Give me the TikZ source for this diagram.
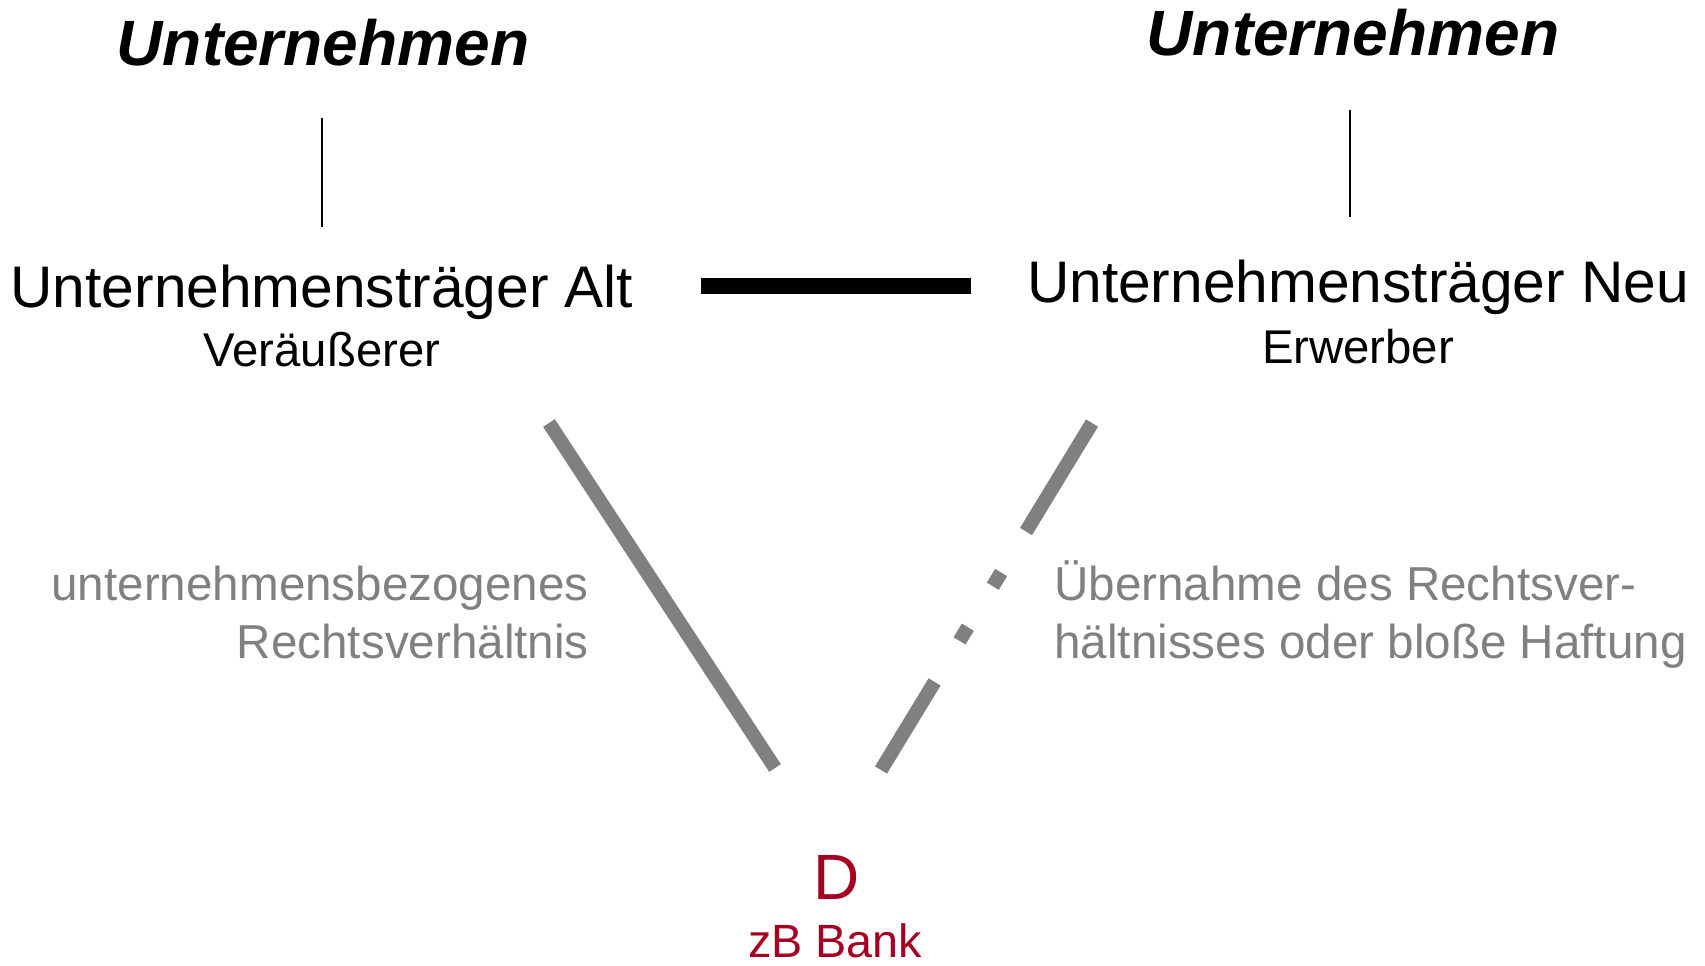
\documentclass[tikz,border=0pt]{standalone}
\usepackage{fontspec}
\setmainfont{Liberation Sans}
\definecolor{lgray}{RGB}{128,128,128}
\definecolor{dred}{RGB}{165,0,33}
\begin{document}
\begin{tikzpicture}[x=0.75pt,y=-0.75pt,
  title/.style={inner sep=0pt, anchor=base, font=\fontsize{48}{56}\selectfont\bfseries\itshape},
  mainlbl/.style={inner sep=0pt, anchor=base, font=\fontsize{44}{52}\selectfont},
  sublbl/.style={inner sep=0pt, anchor=base, font=\fontsize{35.5}{42}\selectfont},
  glbl/.style={inner sep=0pt, text=lgray, font=\fontsize{35.7}{42}\selectfont},
  dlbl/.style={inner sep=0pt, anchor=base, text=dred, font=\fontsize{48}{56}\selectfont},
  banklbl/.style={inner sep=0pt, anchor=base, text=dred, font=\fontsize{35}{42}\selectfont},
  vline/.style={draw=black, line width=0.9pt},
  barline/.style={draw=black, line width=12pt},
  grayline/.style={draw=lgray, line width=10.5pt},
  dashdotline/.style={draw=lgray, line width=10.5pt, dash pattern=on 95.25pt off 36pt on 12pt off 36pt on 12pt off 36pt}
]
\path[use as bounding box] (0,0) rectangle (1705,965);

\node[title] (tL) at (323,65) {Unternehmen};
\node[title] (tR) at (1353,55) {Unternehmen};
\node[mainlbl] (mL) at (322,307) {Unternehmensträger Alt};
\node[mainlbl] (mR) at (1358,302) {Unternehmensträger Neu};
\node[sublbl] (sL) at (322,366) {Veräußerer};
\node[sublbl] (sR) at (1358,363) {Erwerber};
\node[glbl, anchor=base east] (gL1) at (589,600) {unternehmensbezogenes};
\node[glbl, anchor=base east] (gL2) at (589,658) {Rechtsverhältnis};
\node[glbl, anchor=base west] (gR1) at (1054,600) {Übernahme des Rechtsver-};
\node[glbl, anchor=base west] (gR2) at (1054,658) {hältnisses oder bloße Haftung};
\node[dlbl] (D) at (837,899) {D};
\node[banklbl] (bank) at (835,957) {zB Bank};

\coordinate (vL1) at (322,118);
\coordinate (vL2) at (322,227);
\coordinate (vR1) at (1350,110);
\coordinate (vR2) at (1350,217);
\coordinate (bar1) at (701,286);
\coordinate (bar2) at (971,286);
\coordinate (gl1) at (549,423);
\coordinate (gl2) at (775,768);
\coordinate (gr1) at (1092,423);
\coordinate (gr2) at (881,770);

\draw[vline] (vL1) -- (vL2);
\draw[vline] (vR1) -- (vR2);
\draw[barline] (bar1) -- (bar2);
\draw[grayline] (gl1) -- (gl2);
\draw[dashdotline] (gr1) -- (gr2);
\end{tikzpicture}
\end{document}
